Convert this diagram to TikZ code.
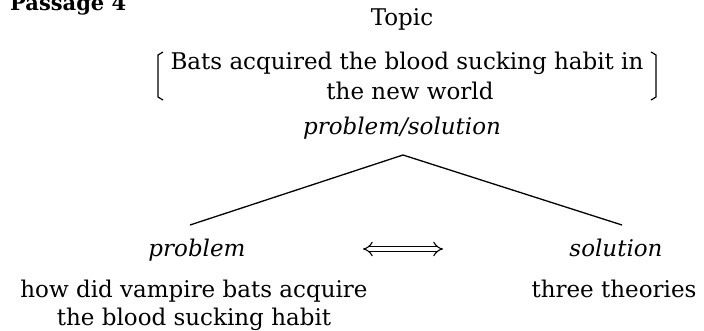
\documentclass[tikz,border=0pt]{standalone}
\usepackage{fontspec}
\setmainfont{DejaVu Serif}
\usetikzlibrary{arrows.meta}
\begin{document}
\begin{tikzpicture}[x=1pt,y=-1pt,
  txt/.style={inner sep=0pt, anchor=base, font=\fontsize{23}{27}\selectfont},
  ital/.style={inner sep=0pt, anchor=base, font=\fontsize{23}{27}\selectfont\itshape},
  head/.style={inner sep=0pt, anchor=base west, font=\fontsize{21}{25}\selectfont\bfseries},
  treeline/.style={line width=1.3pt, line join=round},
  brk/.style={line width=1.2pt},
  dblarrow/.style={double, double distance=4pt, line width=1.1pt, {Implies[length=8pt]}-{Implies[length=8pt]}}]
\useasboundingbox (0,0) rectangle (704,330);
\clip (0,0) rectangle (704,330);
\node[head] (passage) at (10,10) {Passage 4};
\node[txt] (topic) at (402,25) {Topic};
\node[txt] (bats) at (407,69) {Bats acquired the blood sucking habit in};
\node[txt] (newworld) at (410,99) {the new world};
\node[ital] (ps) at (402,134) {problem/solution};
\draw[brk] (163,52) -- (158,55) -- (158,97) -- (163,100);
\draw[brk] (651,52) -- (656,55) -- (656,97) -- (651,100);
\coordinate (apex) at (403,155);
\coordinate (lend) at (190,225);
\coordinate (rend) at (622,225);
\draw[treeline] (lend) -- (apex) -- (rend);
\node[ital] (prob) at (197,256) {problem};
\node[txt] (how) at (194,297) {how did vampire bats acquire};
\node[txt] (blood) at (194,325) {the blood sucking habit};
\node[ital] (sol) at (616,256) {solution};
\node[txt] (three) at (614,297) {three theories};
\coordinate (al) at (363,249);
\coordinate (ar) at (443,249);
\draw[dblarrow] (al) -- (ar);
\end{tikzpicture}
\end{document}
